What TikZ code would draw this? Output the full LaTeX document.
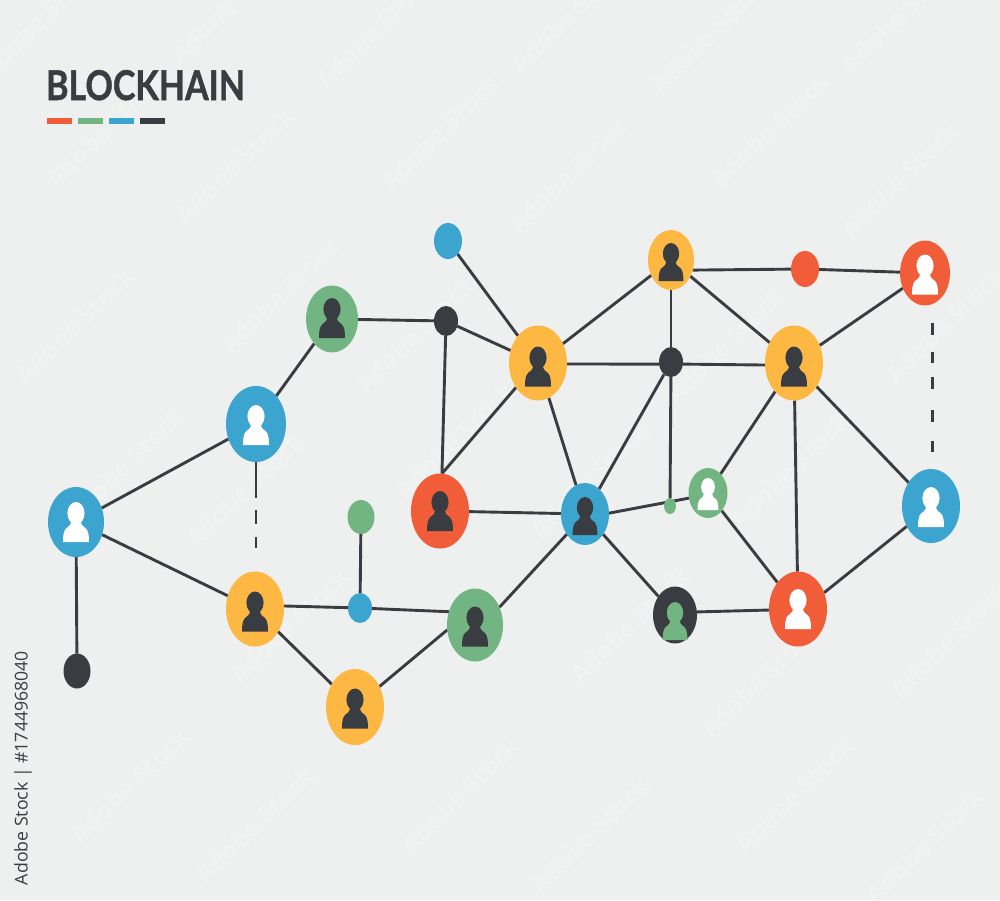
\documentclass[tikz,border=0pt]{standalone}
\usepackage{fontspec}
\setmainfont{Open Sans}
\newfontfamily\titlefont[BoldFeatures={FakeBold=1.2}]{Lato}
\usetikzlibrary{shapes.geometric,backgrounds}
\definecolor{bgc}{HTML}{EEF0F0}
\definecolor{orc}{HTML}{FDB844}
\definecolor{grc}{HTML}{72B582}
\definecolor{blc}{HTML}{3BA5CF}
\definecolor{rdc}{HTML}{F15D38}
\definecolor{dkc}{HTML}{393C40}
\definecolor{wmc}{HTML}{F1F2F2}
\tikzset{
  nd/.style n args={3}{ellipse,inner sep=0pt,outer sep=0pt,minimum width=#1pt,minimum height=#2pt,fill=#3},
  link/.style={draw=dkc,line width=2.9pt},
  wm/.style={text=wmc,rotate=44,font=\bfseries\fontsize{25}{25}\selectfont},
  bar/.style={minimum width=25pt,minimum height=5.5pt,inner sep=0pt,outer sep=0pt}
}
\newcommand{\personicon}[4]{%
  \fill[#3,shift={(#1.center)},shift={(0,#4)},scale=#2]
    (0,-8.8) ellipse [x radius=8.6,y radius=11.2];
  \fill[#3,shift={(#1.center)},shift={(0,#4)},scale=#2]
    (-13,20) .. controls (-13,14) and (-12.5,9) .. (-10,6.5)
    .. controls (-8,4.5) and (-5.5,4) .. (-5,0) -- (5,0)
    .. controls (5.5,4) and (8,4.5) .. (10,6.5)
    .. controls (12.5,9) and (13,14) .. (13,20) -- cycle;
}
\begin{document}
\begin{tikzpicture}[x=1pt,y=-1pt]
\useasboundingbox (0,0) rectangle (1000,900);
\begin{scope}[on background layer]
\fill[bgc] (0,0) rectangle (1000,900);
\foreach \wx/\wy in {40/20,230/5,375/30,570/15,710/35,900/15,105/130,235/165,440/132,568/175,770/130,900/180,75/325,280/295,415/335,725/345,945/325,125/465,245/490,455/440,590/480,790/470,290/625,630/625,760/680,950/640,130/785,255/825,460/795,590/835,795/795,925/845}
  \node[wm] at (\wx,\wy) {Adobe Stock};
\end{scope}
% title
\node[anchor=base west,inner sep=0pt,text=dkc,xscale=0.83,font=\titlefont\bfseries\fontsize{41}{41}\selectfont] (title) at (46,100) {BLOCKHAIN};
\node[bar,fill=rdc] (b1bar) at (59.5,121) {};
\node[bar,fill=grc] (b2bar) at (90.5,121) {};
\node[bar,fill=blc] (b3bar) at (121.5,121) {};
\node[bar,fill=dkc] (b4bar) at (152.5,121) {};
\node[rotate=90,anchor=center,inner sep=0pt,text=dkc,font=\fontsize{17.7}{17.7}\selectfont] (stock) at (23,768) {Adobe Stock | \#1744968040};
% nodes
\node[nd={56}{70}{blc}] (b1) at (76,522) {};
\node[nd={60}{76}{blc}] (b2) at (256,424) {};
\node[nd={52}{67}{grc}] (g1) at (332,319) {};
\node[nd={24}{30}{dkc}] (d1) at (446,321) {};
\node[nd={28}{36}{blc}] (bs1) at (448,241) {};
\node[nd={58}{75}{orc}] (o1) at (538,363) {};
\node[nd={46}{60}{orc}] (o2) at (671,260) {};
\node[nd={28}{36}{rdc}] (rs) at (805,269) {};
\node[nd={50}{65}{rdc}] (r1) at (925,273) {};
\node[nd={58}{75}{orc}] (o3) at (794,363) {};
\node[nd={24}{30}{dkc}] (d2) at (671,362) {};
\node[nd={58}{75}{rdc}] (r2) at (440,511) {};
\node[nd={48}{62}{blc}] (bl) at (585,514) {};
\node[nd={12}{16}{grc}] (gs1) at (670,506) {};
\node[nd={39}{50}{grc}] (g2) at (708,493) {};
\node[nd={58}{74}{blc}] (b3) at (931,506) {};
\node[nd={27}{34}{grc}] (gs2) at (361,517) {};
\node[nd={58}{75}{orc}] (o4) at (255,609) {};
\node[nd={24}{30}{blc}] (bs3) at (360,608) {};
\node[nd={56}{73}{grc}] (g3) at (475,625) {};
\node[nd={58}{76}{orc}] (o5) at (355,707) {};
\node[nd={27}{35}{dkc}] (d3) at (77,671) {};
\node[nd={44}{57}{dkc}] (dg) at (675,615) {};
\node[nd={58}{75}{rdc}] (r3) at (798,609) {};
\coordinate (cb) at (256,548);
\coordinate (cc) at (932.3,323);
\coordinate (cd) at (932.3,452);
% connectors
\begin{scope}[on background layer]
\foreach \p/\q in {b1/b2,b1/o4,b1/d3,b2/g1,g1/d1,d1/o1,bs1/o1,o1/o2,o1/bl,rs/r1,o2/o3,o2/d2,r1/o3,o3/b3,o3/g2,o3/r3,d2/bl,d2/gs1,r2/bl,bl/dg,g2/r3,gs2/bs3,o4/o5}
  \draw[link] (\p) -- (\q);
\draw[link] (o2.-25) -- (rs);
\draw[link] (o1.-2) -- (d2.-10);
\draw[link] (d2.-10) -- (o3.184);
\draw[link] (d1) -- (r2.87);
\draw[link] (o1.228) -- (r2.87);
\draw[link] (bl.228) -- (g3.36);
\draw[link] (o4.6) -- (bs3);
\draw[link] (bs3) -- (g3.153);
\draw[link] (o5.40) -- (g3.190);
\draw[link] (bl.2) -- (g2.195);
\draw[link] (dg.8) -- (r3.182);
\draw[link] (r3.32) -- (b3.220);
\draw[link,dash pattern=on 36pt off 12pt on 14pt off 13pt on 13pt off 100pt] (b2.south) -- (cb);
\draw[link,dash pattern=on 12pt off 17pt on 11pt off 14pt on 12pt off 21pt on 12pt off 19pt on 11pt off 100pt] (cc) -- (cd);
\end{scope}
% icons
\personicon{b1}{1}{white}{0}
\personicon{b2}{1}{white}{1}
\personicon{g1}{1}{dkc}{-1}
\personicon{o1}{1}{dkc}{3.5}
\personicon{o2}{.95}{dkc}{2}
\personicon{r1}{1}{white}{1.5}
\personicon{o3}{1}{dkc}{3.5}
\personicon{r2}{1}{dkc}{0}
\personicon{bl}{.95}{dkc}{2}
\personicon{g2}{.8}{white}{1}
\personicon{b3}{1}{white}{1}
\personicon{o4}{1}{dkc}{2.5}
\personicon{g3}{1}{dkc}{1.5}
\personicon{o5}{1}{dkc}{1.5}
\personicon{dg}{.95}{grc}{6}
\personicon{r3}{1}{white}{0}
\end{tikzpicture}
\end{document}
